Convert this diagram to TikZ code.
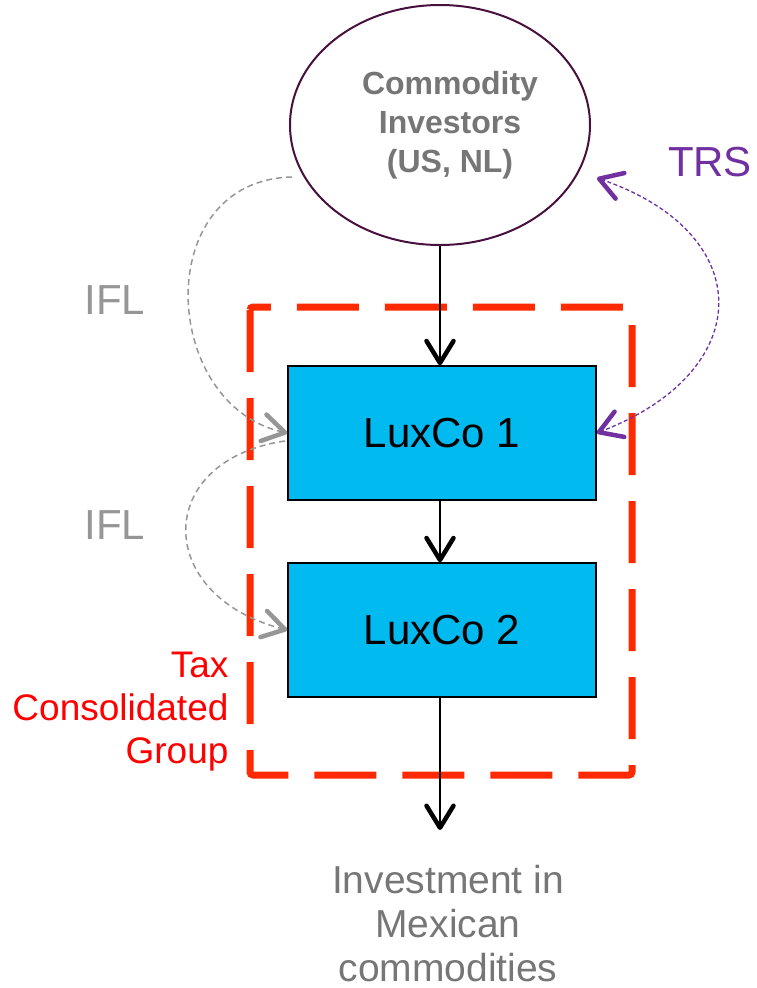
\documentclass[tikz,border=0pt]{standalone}
\usepackage{fontspec}
\setmainfont{Liberation Sans}
\usetikzlibrary{arrows.meta,shapes}
\definecolor{inv}{RGB}{72,16,62}
\definecolor{lux}{RGB}{0,186,240}
\definecolor{grp}{RGB}{255,42,0}
\definecolor{ifl}{RGB}{150,150,150}
\definecolor{trs}{RGB}{112,48,160}
\definecolor{txt}{RGB}{118,118,118}

\begin{document}
\begin{tikzpicture}[x=1pt,y=1pt,
tip/.tip={Straight Barb[length=22pt,width=27pt,line width=4.5pt,round]},
box/.style={draw,line width=1.5pt,fill=lux,minimum width=308pt,minimum height=134pt,font=\fontsize{42}{48}\selectfont},
own/.style={line width=1.5pt,-tip},
loan/.style={ifl,line width=1.5pt,dash pattern=on 6pt off 4pt,-tip},
swap/.style={trs,line width=1.3pt,dash pattern=on 4pt off 2.5pt,tip-tip},
lbl/.style={font=\fontsize{39}{44}\selectfont}]
\useasboundingbox(0,0)rectangle(756,-988);
\draw[grp,line width=7pt,dash pattern=on 62pt off 26pt,rounded corners=3pt](250,-307)rectangle(632,-775);
\node[ellipse,draw=inv,line width=2pt,minimum width=300pt,minimum height=240pt,align=center,text=txt,font=\bfseries\fontsize{32}{39}\selectfont](inv)at(440,-125){\hspace*{20pt}Commodity\\\hspace*{20pt}Investors\\\hspace*{20pt}(US, NL)};
\node[box](l1)at(442,-433){LuxCo 1};\node[box](l2)at(442,-630){LuxCo 2};
\coordinate(out)at(440,-830);\coordinate(ifla)at(292,-177);\coordinate(iflb)at(285,-441);
\draw[own](inv.south)--(l1.north-|inv.south);\draw[own](l1.south-|inv.south)--(l2.north-|inv.south);\draw[own](l2.south-|inv.south)--(out);
\draw[loan](ifla)..controls(150,-180)and(160,-405)..(l1.west);
\draw[loan](iflb)..controls(153,-460)and(153,-596)..(l2.west);
\draw[swap](597,-178)..controls(758,-233)and(758,-371)..(l1.east);
\node[lbl,text=txt,align=center](mx)at(448,-924){Investment in\\Mexican\\commodities};
\node[lbl,text=ifl,font=\fontsize{42}{48}\selectfont](i1)at(115,-300){IFL};\node[lbl,text=ifl,font=\fontsize{42}{48}\selectfont](i2)at(115,-525){IFL};
\node[lbl,text=trs,font=\fontsize{42}{48}\selectfont](trs)at(710,-162){TRS};
\node[text=red,align=right,anchor=east,font=\fontsize{37}{43}\selectfont](tax)at(232,-712){Tax\\Consolidated\\Group};
\end{tikzpicture}
\end{document}
